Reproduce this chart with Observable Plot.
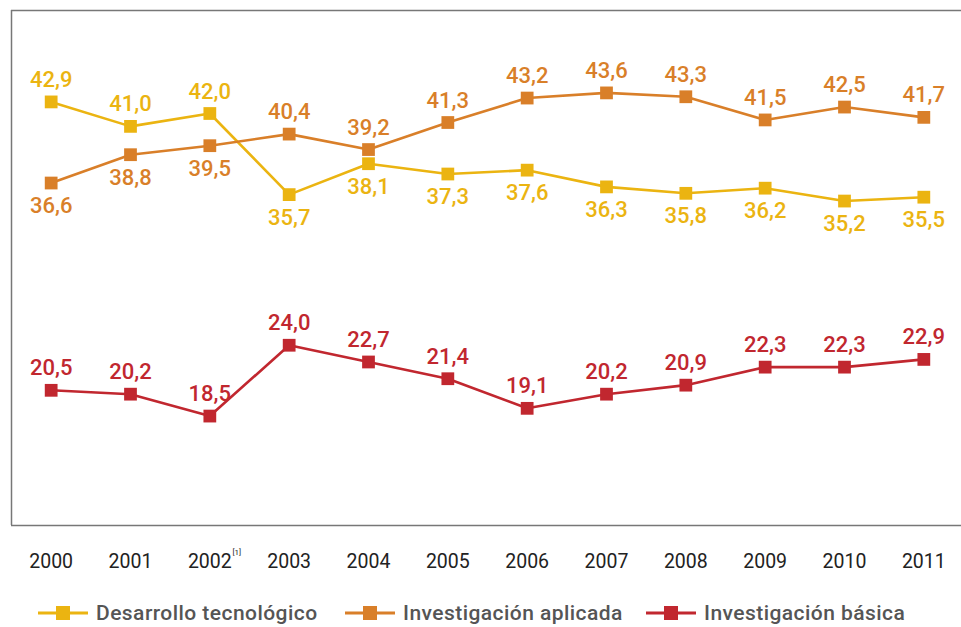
<!DOCTYPE html>
<html>
<head>
<meta charset="utf-8">
<script src="https://cdn.jsdelivr.net/npm/d3@7"></script>
<script src="https://cdn.jsdelivr.net/npm/@observablehq/plot@0.6"></script>
<style>
  html, body { margin: 0; padding: 0; background: #fff; overflow: hidden; }
  #chart svg { display: block; overflow: visible; }
  #legend { position: relative; height: 37px; font-family: Roboto, "DejaVu Sans", sans-serif; font-weight: 500; font-size: 21px; color: #555; }
  .item { position: absolute; top: 11px; display: flex; align-items: center; }
  .item span { margin-left: 8px; letter-spacing: 0.45px; }
</style>
</head>
<body>
<div id="chart"></div>
<div id="legend"></div>
<script>
const years = [2000, 2001, 2002, 2003, 2004, 2005, 2006, 2007, 2008, 2009, 2010, 2011];
const yearLabels = ["2000", "2001", "2002", "2003", "2004", "2005", "2006", "2007", "2008", "2009", "2010", "2011"];
const footnoteYear = 2002;
const footnoteMark = "[1]";
const seriesNames = ["Desarrollo tecnológico", "Investigación aplicada", "Investigación básica"];
const seriesColors = ["#ebb411", "#d97f29", "#c1272f"];
const desarrollo = [42.9, 41.0, 42.0, 35.7, 38.1, 37.3, 37.6, 36.3, 35.8, 36.2, 35.2, 35.5];
const aplicada = [36.6, 38.8, 39.5, 40.4, 39.2, 41.3, 43.2, 43.6, 43.3, 41.5, 42.5, 41.7];
const basica = [20.5, 20.2, 18.5, 24.0, 22.7, 21.4, 19.1, 20.2, 20.9, 22.3, 22.3, 22.9];

const allSeries = [desarrollo, aplicada, basica];
const rows = [];
allSeries.forEach((vals, s) => {
  vals.forEach((v, i) => {
    let above = true;
    if (s === 0) above = v >= aplicada[i];
    if (s === 1) above = v > desarrollo[i];
    rows.push({year: years[i], value: v, series: seriesNames[s], above});
  });
});

const fmt = v => v.toFixed(1).replace(".", ",");
const color = {domain: seriesNames, range: seriesColors};

const chart = Plot.plot({
  width: 961,
  height: 590,
  marginTop: 10,
  marginBottom: 65,
  marginLeft: 11,
  marginRight: 0,
  style: {fontFamily: "Roboto, 'DejaVu Sans', sans-serif", background: "#fff"},
  x: {domain: [1999.5, 2011.5], range: [11, 963], axis: null},
  y: {domain: [10, 50], range: [525, 10], axis: null},
  color,
  marks: [
    Plot.ruleY([10, 50], {x1: 1999.5, x2: 2012, stroke: "#777", strokeWidth: 1.5}),
    Plot.ruleX([1999.5], {y1: 10, y2: 50, stroke: "#777", strokeWidth: 1.5}),
    Plot.line(rows, {x: "year", y: "value", z: "series", stroke: "series", strokeWidth: 2.6}),
    Plot.dot(rows, {x: "year", y: "value", fill: "series", symbol: "square", r: 7.2}),
    Plot.text(rows.filter(d => d.above), {x: "year", y: "value", text: d => fmt(d.value), fill: "series", dy: -22, fontSize: 22, fontWeight: 500}),
    Plot.text(rows.filter(d => !d.above), {x: "year", y: "value", text: d => fmt(d.value), fill: "series", dy: 23, fontSize: 22, fontWeight: 500}),
    Plot.text(years, {x: d => d, y: 10, text: (d, i) => yearLabels[i], dy: 36, fontSize: 19.5, fill: "#222"}),
    Plot.text([footnoteYear], {x: d => d, y: 10, text: () => footnoteMark, dy: 27, dx: 27, fontSize: 8, fill: "#222"})
  ]
});
document.getElementById("chart").appendChild(chart);

const legend = document.getElementById("legend");
const legendX = [38, 345, 646];
seriesNames.forEach((name, i) => {
  const div = document.createElement("div");
  div.className = "item";
  div.style.left = legendX[i] + "px";
  div.innerHTML = `<svg width="50" height="14"><line x1="0" x2="50" y1="7" y2="7" stroke="${seriesColors[i]}" stroke-width="3"/><rect x="18" y="0" width="14" height="14" fill="${seriesColors[i]}"/></svg><span>${name}</span>`;
  legend.appendChild(div);
});
</script>
</body>
</html>
